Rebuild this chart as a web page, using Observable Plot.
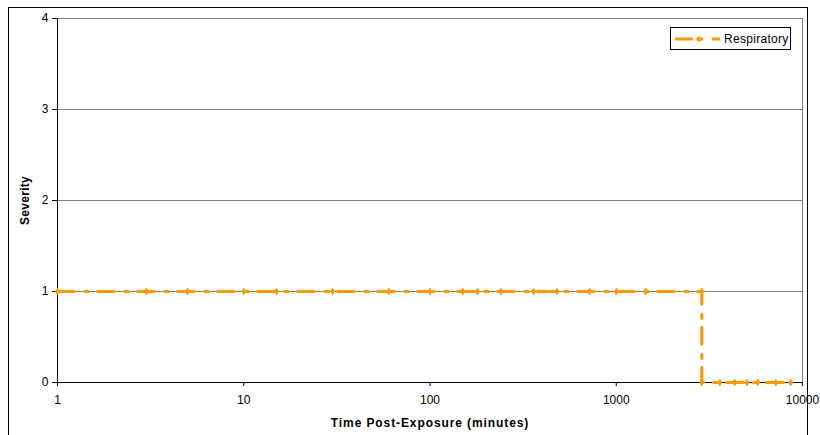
<!DOCTYPE html>
<html><head><meta charset="utf-8">
<script src="https://cdn.jsdelivr.net/npm/d3@7"></script>
<script src="https://cdn.jsdelivr.net/npm/@observablehq/plot@0.6"></script>
<style>
body{margin:0;background:#fff;}
#wrap{position:relative;width:820px;height:435px;overflow:hidden;font-family:Arial,"Liberation Sans",sans-serif;}
#frame{position:absolute;left:8px;top:7px;width:800px;height:450px;border:1px solid #000;box-sizing:border-box;pointer-events:none;}
#chart{position:absolute;left:0;top:0;}
#legend{position:absolute;left:670px;top:27px;width:121px;height:23px;border:1px solid #000;box-sizing:border-box;background:#fff;display:flex;align-items:center;font-size:12px;letter-spacing:0.3px;color:#000;}
#legend svg{margin-left:4px;margin-right:4px;}
</style>
</head><body>
<div id="wrap">
  <div id="chart"></div>
  <div id="frame"></div>
  <div id="legend"><svg width="45" height="10"></svg><span id="legtext"></span></div>
</div>
<script>
const times = [1, 3, 5, 10, 15, 30, 60, 100, 150, 180, 240, 360, 480, 720, 1000, 1440, 2880, 2880, 3600, 4320, 5040, 5760, 7200, 8640];
const severity = [1, 1, 1, 1, 1, 1, 1, 1, 1, 1, 1, 1, 1, 1, 1, 1, 1, 0, 0, 0, 0, 0, 0, 0];
const seriesName = "Respiratory";
const xTicks = [1, 10, 100, 1000, 10000];
const yTicks = [0, 1, 2, 3, 4];
const xLabel = "Time Post-Exposure (minutes)";
const yLabel = "Severity";
const color = "#FF9900";

const data = times.map((t, i) => ({t, s: severity[i]}));

const chart = Plot.plot({
  width: 820, height: 435,
  marginLeft: 57, marginRight: 18, marginTop: 18, marginBottom: 53,
  style: {fontFamily: "Arial, 'Liberation Sans', sans-serif", fontSize: "12px", color: "#000", background: "transparent", overflow: "visible"},
  x: {type: "log", domain: [1, 10000]},
  y: {domain: [0, 4]},
  marks: [
    Plot.gridY(yTicks, {stroke: "#808080", strokeOpacity: 1}),
    Plot.ruleX([10000], {stroke: "#808080"}),
    Plot.axisX({ticks: xTicks, tickFormat: d => String(d), tickSize: 4, tickPadding: 9, label: null, stroke: "#000", fontSize: 12}),
    Plot.axisY({ticks: yTicks, tickFormat: d => String(d), tickSize: 5, tickPadding: 4, label: null, stroke: "#000", fontSize: 12}),
    Plot.ruleX([1], {stroke: "#000"}),
    Plot.ruleY([0], {stroke: "#000"}),
    Plot.text([xLabel], {frameAnchor: "bottom", dy: 41, fontWeight: "bold", fontSize: 12, lineAnchor: "middle", textAnchor: "middle"}),
    Plot.text([yLabel], {frameAnchor: "left", dx: -32, rotate: -90, fontWeight: "bold", fontSize: 12, lineAnchor: "middle", textAnchor: "middle"}),
    Plot.line(data, {x: "t", y: "s", stroke: color, strokeWidth: 3, strokeDasharray: "17,10,4,9"}),
    Plot.dot(data, {x: "t", y: "s", symbol: "diamond", r: 2, fill: color, stroke: color, strokeWidth: 1})
  ]
});
document.getElementById("chart").appendChild(chart);
// Excel-like letter spacing for axis titles
d3.select(chart).selectAll("text").each(function() {
  const t = this.textContent;
  if (t === xLabel) this.style.letterSpacing = "0.9px";
  if (t === yLabel) this.style.letterSpacing = "0.3px";
});

// legend
document.getElementById("legtext").textContent = seriesName;
const lsvg = d3.select("#legend svg");
lsvg.append("line").attr("x1", 0).attr("x2", 45).attr("y1", 5).attr("y2", 5)
  .attr("stroke", color).attr("stroke-width", 3).attr("stroke-dasharray", "18,6,4,9");
lsvg.append("path").attr("d", d3.symbol(d3.symbolDiamond2, 18)()).attr("transform", "translate(24,5)").attr("fill", color).attr("stroke", color);
</script>
</body></html>
